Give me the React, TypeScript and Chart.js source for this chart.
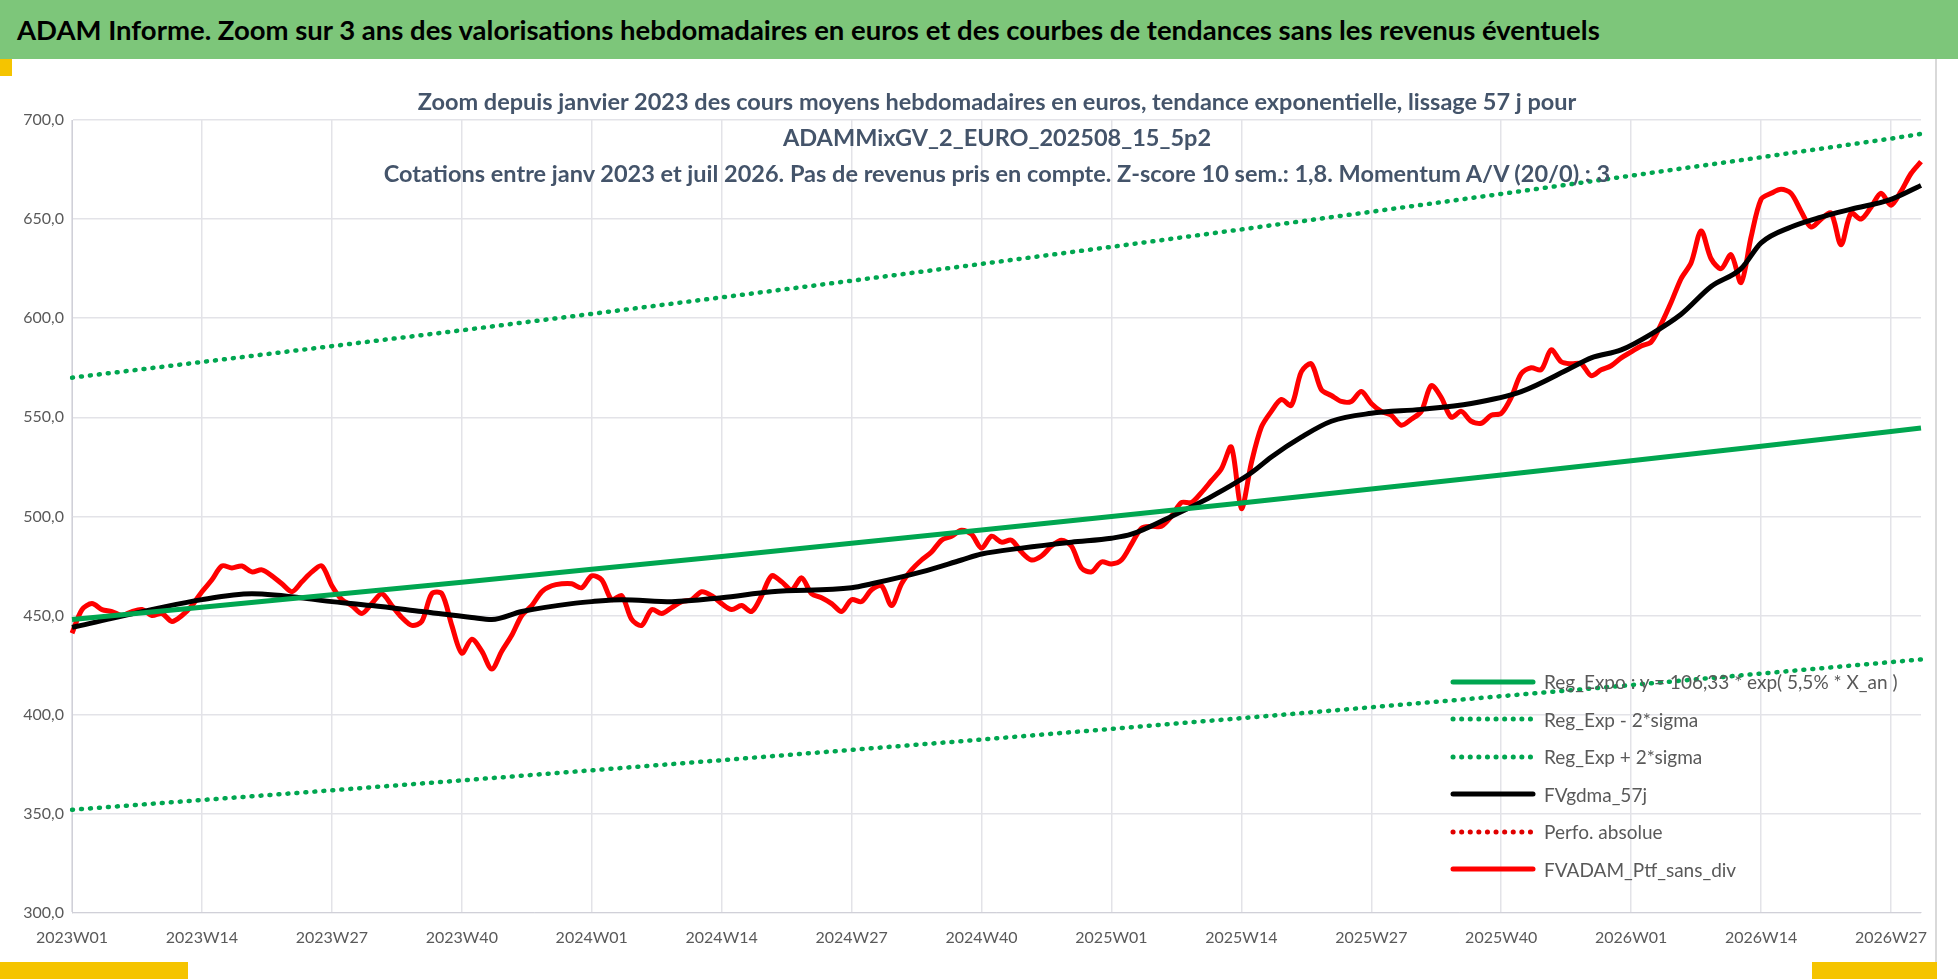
import React, { useEffect, useRef } from "react";
import { Chart, registerables } from "chart.js";
Chart.register(...registerables);

const RED: number[] = [
441,453,456,453,452,450,452,453,450,451,447,450,455,462,
468,475,474,475,472,473,470,466,462,467,472,475,465,
458,455,451,456,461,455,449,445,447,
461,461,445,431,438,432,423,432,440,450,455,462,465,466,466,464,470,468,458,460,
448,445,453,451,454,457,458,462,460,456,453,455,452,460,470,467,463,469,461,459,
456,452,458,457,463,465,455,466,473,478,482,488,490,493,491,484,490,487,488,482,
478,480,485,488,485,474,472,477,476,478,486,494,495,495,500,507,507,512,518,524,
535,504,527,545,553,559,556,573,577,564,561,558,558,563,557,553,551,546,549,553,
566,560,550,553,548,547,551,552,560,572,575,574,584,578,577,577,571,574,576,580,
583,586,588,597,608,620,628,644,630,625,632,618,641,660,663,665,663,654,646,650,
653,637,653,650,656,663,657,664,673,679];

const MA_IDX = [0,13,18,26,30,35,40,42,45,50,52,55,60,65,70,78,80,85,89,91,95,100,104,106,110,114,118,120,123,126,130,135,140,145,150,152,155,158,161,164,167,169,172,175,178,182,185];
const MA_VAL = [444,458,461,457,455,452,449,448,452,456,457,458,457,459,462,464,466,472,478,481,484,487,489,491,500,510,522,530,540,548,552,554,557,563,575,580,584,592,602,616,625,638,646,651,655,660,667];

const TREND_IDX = [0,13,26,39,52,65,78,91,104,117,130,143,156,169,182,185];
const TREND = [448,454.2,460.5,466.8,473.3,479.8,486.4,493.1,499.9,506.8,513.8,520.9,528.1,535.4,542.8,544.6];
const UPPER = [570,577.9,585.9,593.9,602.2,610.5,618.9,627.4,636.0,644.8,653.7,662.7,671.9,681.2,690.6,693.0];
const LOWER = [352,356.9,361.8,366.8,371.9,377.0,382.2,387.4,392.8,398.2,403.7,409.3,414.9,420.7,426.5,427.8];

const N = RED.length;
const LABELS: string[] = [];
for (let i = 0; i < N; i++) {
  const y = 2023 + Math.floor(i / 52);
  const w = (i % 52) + 1;
  LABELS.push(`${y}W${w < 10 ? "0" + w : w}`);
}
function sparse(idx: number[], val: number[]) {
  const a: (number | null)[] = new Array(N).fill(null);
  idx.forEach((k, j) => { a[k] = val[j]; });
  return a;
}

const GREEN = "#00A650";
const LEGEND = [
  { t: "Reg_Expo : y = 106,33 * exp( 5,5% *  X_an )", c: GREEN, d: false },
  { t: "Reg_Exp - 2*sigma", c: GREEN, d: true },
  { t: "Reg_Exp + 2*sigma", c: GREEN, d: true },
  { t: "FVgdma_57j", c: "#000", d: false },
  { t: "Perfo. absolue", c: "#E00000", d: true },
  { t: "FVADAM_Ptf_sans_div", c: "#FF0000", d: false },
];

export default function App() {
  const ref = useRef<HTMLCanvasElement>(null);
  useEffect(() => {
    const dotted = { borderDash: [1, 8], borderCapStyle: "round" as const, borderWidth: 4.5 };
    const ch = new Chart(ref.current!, {
      type: "line",
      data: {
        labels: LABELS,
        datasets: [
          { data: sparse(TREND_IDX, TREND), borderColor: GREEN, borderWidth: 5, spanGaps: true },
          { data: sparse(TREND_IDX, LOWER), borderColor: GREEN, spanGaps: true, ...dotted },
          { data: sparse(TREND_IDX, UPPER), borderColor: GREEN, spanGaps: true, ...dotted },
          { data: sparse(MA_IDX, MA_VAL), borderColor: "#000", borderWidth: 5, spanGaps: true, cubicInterpolationMode: "monotone" },
          { data: RED, borderColor: "#FF0000", borderWidth: 5, tension: 0.3 },
        ],
      },
      options: {
        animation: false,
        responsive: false,
        elements: { point: { radius: 0 } },
        layout: { padding: { top: 58, right: 17, left: 0, bottom: 0 } },
        plugins: { legend: { display: false }, title: { display: false }, tooltip: { enabled: false } },
        scales: {
          x: {
            offset: false,
            grid: { color: (c: any) => (c.index % 13 === 0 ? "#E3E3E8" : "rgba(0,0,0,0)"), drawTicks: false, lineWidth: 1.5 },
            border: { color: "#D0D0D8" },
            ticks: {
              autoSkip: false, maxRotation: 0, padding: 15,
              color: "#595959", font: { family: "Lato", size: 16 },
              callback: (_v: any, i: number) => (i % 13 === 0 ? LABELS[i] : ""),
            },
          },
          y: {
            min: 300, max: 700,
            grid: { color: "#E3E3E8", drawTicks: false, lineWidth: 1.5 },
            border: { color: "#D0D0D8" },
            afterFit: (s: any) => { s.width = 72; },
            ticks: {
              stepSize: 50, padding: 8, color: "#595959", font: { family: "Lato", size: 16 },
              callback: (v: any) => Number(v).toFixed(1).replace(".", ","),
            },
          },
        },
      },
    });
    return () => ch.destroy();
  }, []);

  return (
    <div style={{ position: "fixed", left: 0, top: 0, width: 1958, height: 979, background: "#fff", fontFamily: "Lato", overflow: "hidden" }}>
      <div style={{ position: "absolute", left: 0, top: 0, width: 1958, height: 59, background: "#7DC67A" }} />
      <div style={{ position: "absolute", left: 17, top: 13, fontSize: 27.5, fontWeight: 700, color: "#000", whiteSpace: "nowrap" }}>
        ADAM Informe. Zoom sur 3 ans des valorisations hebdomadaires en euros et des courbes de tendances sans les revenus éventuels
      </div>
      <div style={{ position: "absolute", left: 0, top: 59, width: 12, height: 17, background: "#F5C400" }} />
      <div style={{ position: "absolute", left: 0, top: 962, width: 188, height: 17, background: "#F5C400" }} />
      <div style={{ position: "absolute", left: 1812, top: 962, width: 125, height: 17, background: "#F5C400" }} />
      <div style={{ position: "absolute", left: 1935, top: 59, width: 1.5, height: 903, background: "#D9D9D9" }} />
      <canvas ref={ref} width={1938} height={900} style={{ position: "absolute", left: 0, top: 62 }} />
      <div style={{ position: "absolute", left: 72, top: 83, width: 1850, textAlign: "center", fontSize: 23.5, fontWeight: 700, color: "#44546A", lineHeight: "36px" }}>
        <div>Zoom depuis janvier 2023 des cours moyens hebdomadaires en euros, tendance exponentielle, lissage 57 j pour</div>
        <div>ADAMMixGV_2_EURO_202508_15_5p2</div>
        <div>Cotations entre janv 2023 et juil 2026. Pas de revenus pris en compte. Z-score 10 sem.: 1,8. Momentum A/V (20/0) : 3</div>
      </div>
      <div style={{ position: "absolute", left: 1450, top: 663 }}>
        {LEGEND.map((l, i) => (
          <div key={i} style={{ display: "flex", alignItems: "center", height: 37.5, fontSize: 19, color: "#595959", whiteSpace: "nowrap" }}>
            <svg width={86} height={12} style={{ marginRight: 8 }}>
              <line x1={3} y1={6} x2={83} y2={6} stroke={l.c} strokeWidth={5} strokeLinecap="round" strokeDasharray={l.d ? "0.1 8.5" : undefined} />
            </svg>
            <span>{l.t}</span>
          </div>
        ))}
      </div>
    </div>
  );
}
